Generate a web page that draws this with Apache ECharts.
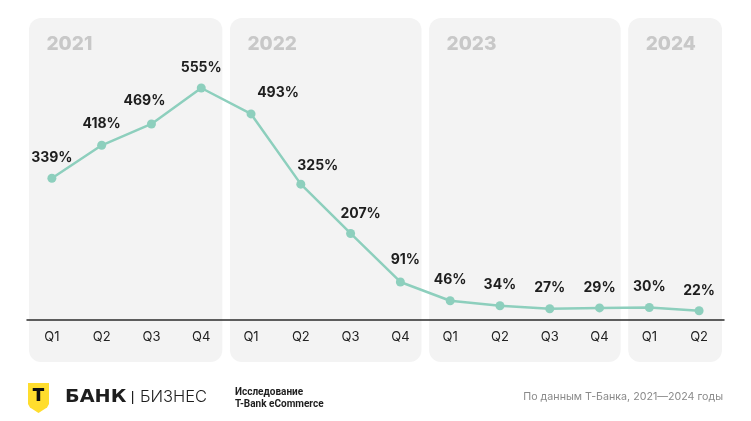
<!DOCTYPE html>
<html>
<head>
<meta charset="utf-8">
<script src="https://cdn.jsdelivr.net/npm/echarts@6/dist/echarts.min.js"></script>
<style>
html,body{margin:0;padding:0;background:#fff;}
#c{width:751px;height:421px;}
</style>
</head>
<body>
<div id="c"></div>
<script>
const years = ['2021', '2022', '2023', '2024'];
const quartersPerYear = [4, 4, 4, 2];
const quarters = ['Q1','Q2','Q3','Q4','Q1','Q2','Q3','Q4','Q1','Q2','Q3','Q4','Q1','Q2'];
const values = [339, 418, 469, 555, 493, 325, 207, 91, 46, 34, 27, 29, 30, 22];

// label nudges (style only)
const labelOffsets = [[0,0],[0,-1],[-7,-3],[0,0],[27,-1],[17,2],[10,1],[5,-2],[0,0],[0,0],[0,0],[0,0],[0,0],[0,0]];

const FONT = 'Inter, "Noto Sans", sans-serif';
const chart = echarts.init(document.getElementById('c'), null, {renderer: 'canvas'});

const option = {
  animation: false,
  backgroundColor: '#ffffff',
  grid: {left: 27, right: 27, top: 27.4, bottom: 101},
  xAxis: {
    type: 'category',
    data: quarters,
    boundaryGap: true,
    axisLine: {lineStyle: {color: '#2b2b2b', width: 1.5}},
    axisTick: {show: false},
    axisLabel: {color: '#222', fontSize: 13, fontFamily: FONT, margin: 11}
  },
  yAxis: {type: 'value', min: 0, max: 700, show: false, splitLine: {show: false}},
  series: [{
    type: 'line',
    z: 5,
    data: values.map((v, i) => ({
      value: v,
      label: {offset: labelOffsets[i]}
    })),
    symbol: 'circle',
    symbolSize: 9,
    lineStyle: {color: '#8dcfbd', width: 2.5},
    itemStyle: {color: '#8dcfbd'},
    label: {
      show: true,
      position: 'top',
      distance: 9,
      formatter: '{c}%',
      color: '#1e1e1e',
      fontSize: 14,
      fontWeight: 'bold',
      fontFamily: FONT
    }
  }]
};
chart.setOption(option);

// panels behind each year, positioned from the category scale
const p0 = chart.convertToPixel({xAxisIndex: 0}, 0);
const p1 = chart.convertToPixel({xAxisIndex: 0}, 1);
const band = p1 - p0;
const graphics = [];
let idx = 0;
years.forEach((y, k) => {
  const first = idx, last = idx + quartersPerYear[k] - 1;
  idx += quartersPerYear[k];
  const left = chart.convertToPixel({xAxisIndex: 0}, first) - band / 2 + (k === 0 ? 2 : 3.8);
  const right = chart.convertToPixel({xAxisIndex: 0}, last) + band / 2 - (k === years.length - 1 ? 2 : 3.8);
  graphics.push({
    type: 'rect', z: -10,
    shape: {x: left, y: 18, width: right - left, height: 344, r: 12},
    style: {fill: '#f3f3f3'}
  });
  graphics.push({
    type: 'text', z: -9,
    x: left + 17.5, y: 44,
    style: {text: y, fill: '#c8c8c8', font: '800 19px ' + FONT, verticalAlign: 'middle'}
  });
});

// footer: logo
graphics.push({
  type: 'polygon', z: 1,
  shape: {points: [[28,383],[49,383],[49,404],[47,407.5],[38.5,413],[30,407.5],[28,404]]},
  style: {fill: '#ffdd2d'}
});
graphics.push({
  type: 'text', z: 2, x: 38.5, y: 396,
  style: {text: 'T', fill: '#111', font: '900 18px ' + FONT, align: 'center', verticalAlign: 'middle'}
});
graphics.push({
  type: 'text', z: 2, x: 65, y: 397.5, scaleX: 1.1,
  style: {text: 'БАНК', fill: '#1e1e1e', font: '900 17.5px "DejaVu Sans", ' + FONT, verticalAlign: 'middle'}
});
graphics.push({
  type: 'rect', z: 2,
  shape: {x: 132, y: 391, width: 1.2, height: 13},
  style: {fill: '#1e1e1e'}
});
graphics.push({
  type: 'text', z: 2, x: 140, y: 397.5,
  style: {text: 'БИЗНЕС', fill: '#1e1e1e', font: '300 16.5px ' + FONT, verticalAlign: 'middle'}
});
graphics.push({
  type: 'text', z: 2, x: 235, y: 392,
  style: {text: 'Исследование', fill: '#1e1e1e', font: 'bold 10px Roboto, ' + FONT, verticalAlign: 'middle'}
});
graphics.push({
  type: 'text', z: 2, x: 235, y: 404.5,
  style: {text: 'T-Bank eCommerce', fill: '#1e1e1e', font: 'bold 10px Roboto, ' + FONT, verticalAlign: 'middle'}
});
graphics.push({
  type: 'text', z: 2, x: 723, y: 397,
  style: {text: 'По данным Т-Банка, 2021—2024 годы', fill: '#8a8a8a', font: '10.7px ' + FONT, align: 'right', verticalAlign: 'middle'}
});

chart.setOption({graphic: graphics});
</script>
</body>
</html>
